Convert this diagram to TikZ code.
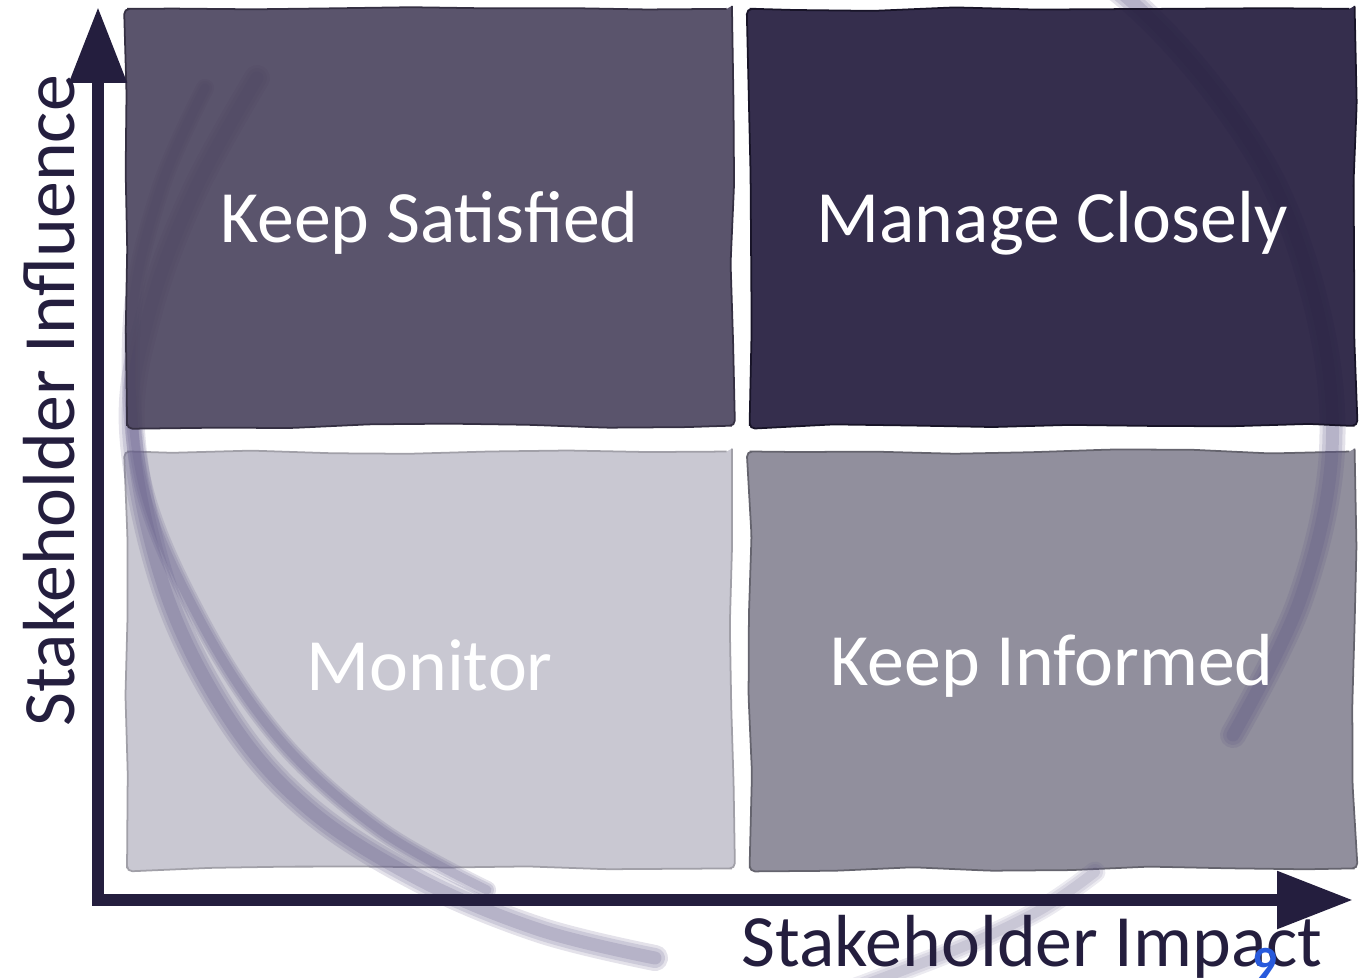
\documentclass[tikz,border=0pt]{standalone}
\usepackage{fontspec}
\setmainfont{Carlito}
\usetikzlibrary{positioning,arrows.meta,decorations.pathmorphing}

\definecolor{axisink}{RGB}{36,30,62}
\definecolor{satfill}{RGB}{76,69,95}
\definecolor{manfill}{RGB}{40,33,66}
\definecolor{monfill}{RGB}{201,200,210}
\definecolor{inffill}{RGB}{145,143,157}
\definecolor{brush}{RGB}{92,84,132}

\tikzset{
  quad/.style={minimum width=12.1cm, minimum height=8.34cm, inner sep=0pt,
    line width=1pt, rounded corners=3pt, decorate,
    decoration={random steps, segment length=45pt, amplitude=1.3pt}},
  quadtext/.style={text=white, font=\fontsize{42}{48}\selectfont, yshift=-0.11cm},
  axislabel/.style={text=axisink, font=\fontsize{42}{48}\selectfont, anchor=base},
  axis/.style={draw=axisink, line width=0.24cm, line join=miter,
    {Triangle[length=1.52cm,width=1.1cm]}-{Triangle[length=1.52cm,width=1.1cm]}},
  brushstroke/.style={draw=brush, line cap=round, line join=round}
}

\begin{document}
\begin{tikzpicture}[x=0.02cm,y=-0.02cm]
\pgfmathsetseed{7}
\clip (0,0) rectangle (1365,977);

\node[quad, fill=monfill, draw=monfill!80!black] (mo) at (429.5,660) {};
\node[quad, fill=inffill, draw=inffill!70!black, right=0.32cm of mo] (ki) {};

% brush strokes, soft edges from stacked widths
\foreach \w/\o in {26/.17,20/.17,13/.2}{
  \draw[brushstroke, line width=\w*0.02cm, opacity=\o] plot[smooth, tension=.6] coordinates {
    (1233,735) (1300,600) (1332,450) (1315,300) (1255,150) (1130,0) (960,-110)};
  \draw[brushstroke, line width=.8*\w*0.02cm, opacity=.7*\o] plot[smooth, tension=.6] coordinates {
    (850,990) (960,948) (1040,910) (1095,872)};
  \draw[brushstroke, line width=\w*0.02cm, opacity=\o] plot[smooth, tension=.6] coordinates {
    (257,78) (195,190) (150,310) (132,430) (165,590) (230,720) (310,810)
    (420,880) (540,930) (655,958)};
  \draw[brushstroke, line width=.7*\w*0.02cm, opacity=\o] plot[smooth, tension=.6] coordinates {
    (205,88) (160,190) (132,320) (142,480) (200,620) (280,740) (380,830)
    (487,890)};
}

\node[quad, fill=satfill, fill opacity=.92, draw=satfill!70!black, above=0.48cm of mo] (ks) {};
\node[quad, fill=manfill, fill opacity=.94, draw=manfill!60!black, right=0.32cm of ks] (mc) {};

\node[quadtext] (kst) at (ks) {Keep Satisfied};
\node[quadtext] (mct) at (mc) {Manage Closely};
\node[quadtext] (mot) at (mo) {Monitor};
\node[quadtext] (kit) at (ki) {Keep Informed};

\coordinate (origin) at (98,900);
\coordinate (ytop) at (98,7);
\coordinate (xend) at (1353,900);
\draw[axis] (ytop) -- (origin) -- (xend);

\node[axislabel] (xlab) at (1032,966) {Stakeholder Impact};
\node[axislabel, rotate=90] (ylab) at (74,401) {Stakeholder Influence};
\node[anchor=base, text={rgb,255:red,40;green,90;blue,220},
  font=\fontsize{28}{30}\selectfont\bfseries] (pg) at (1265,980) {9};
\end{tikzpicture}
\end{document}
